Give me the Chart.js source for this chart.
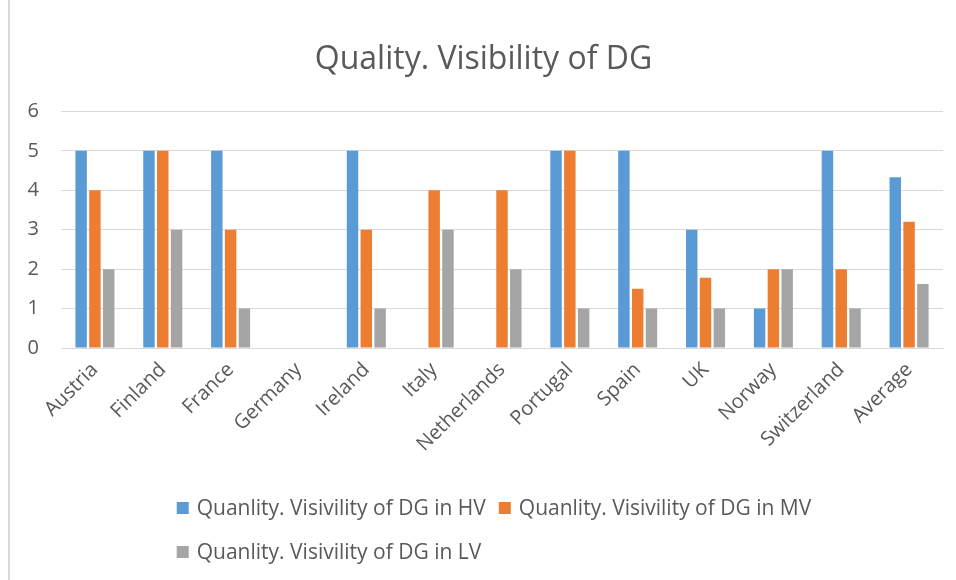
<!DOCTYPE html>
<html>
<head>
<meta charset="utf-8">
<script src="https://cdn.jsdelivr.net/npm/chart.js@4"></script>
<style>
  html,body{margin:0;padding:0;background:#fff;}
  #wrap{position:relative;width:956px;height:580px;overflow:hidden;}
  #edge{position:absolute;left:8px;top:0;width:2px;height:580px;background:#d9d9d9;}
  canvas{position:absolute;left:0;top:0;}
</style>
</head>
<body>
<div id="wrap"><div id="edge"></div><canvas id="chart" width="956" height="580"></canvas></div>
<script>
// data
const categories = ['Austria','Finland','France','Germany','Ireland','Italy','Netherlands','Portugal','Spain','UK','Norway','Switzerland','Average'];
const hvValues = [5, 5, 5, 0, 5, 0, 0, 5, 5, 3, 1, 5, 4.33];
const mvValues = [4, 5, 3, 0, 3, 4, 4, 5, 1.5, 1.78, 2, 2, 3.2];
const lvValues = [2, 3, 1, 0, 1, 3, 2, 1, 1, 1, 2, 1, 1.62];
const yTicks = [0, 1, 2, 3, 4, 5, 6];
const seriesNames = ['Quanlity. Visivility of DG in HV','Quanlity. Visivility of DG in MV','Quanlity. Visivility of DG in LV'];

const FONT = '"Open Sans"';
const TXT = '#595959';
const GRID = '#d9d9d9';

// Excel-like legend: rows left aligned to the first (centered) row
const excelLegend = {
  id: 'excelLegend',
  afterDraw(chart){
    const ctx = chart.ctx;
    ctx.save();
    ctx.font = '21px ' + FONT;
    ctx.textBaseline = 'middle';
    const box = 12, gapText = 8, gapItem = 13, maxW = 800;
    const items = chart.data.datasets.map(ds => ({
      text: ds.label, color: ds.backgroundColor,
      w: box + gapText + ctx.measureText(ds.label).width
    }));
    const rows = [[]], widths = [0];
    items.forEach(it => {
      const r = rows.length - 1;
      const add = (rows[r].length ? gapItem : 0) + it.w;
      if (rows[r].length && widths[r] + add > maxW) { rows.push([it]); widths.push(it.w); }
      else { rows[r].push(it); widths[r] += add; }
    });
    const x0 = 494 - widths[0] / 2;
    rows.forEach((row, i) => {
      const y = 508 + i * 44;
      let x = x0;
      row.forEach(it => {
        ctx.fillStyle = it.color;
        ctx.fillRect(x, y - box / 2, box, box);
        ctx.fillStyle = TXT;
        ctx.fillText(it.text, x + box + gapText, y + 1);
        x += it.w + gapItem;
      });
    });
    ctx.restore();
  }
};

const ctx = document.getElementById('chart');
new Chart(ctx, {
  type: 'bar',
  data: {
    labels: categories,
    datasets: [
      { label: seriesNames[0], data: hvValues, backgroundColor: '#5b9bd5' },
      { label: seriesNames[1], data: mvValues, backgroundColor: '#ed7d31' },
      { label: seriesNames[2], data: lvValues, backgroundColor: '#a5a5a5' }
    ]
  },
  options: {
    responsive: false,
    animation: false,
    events: [],
    layout: { padding: { left: 24, right: 13, top: 0, bottom: 120 } },
    datasets: { bar: { categoryPercentage: 0.61, barPercentage: 0.83 } },
    plugins: {
      legend: { display: false },
      tooltip: { enabled: false },
      title: {
        display: true, text: 'Quality. Visibility of DG', color: TXT,
        font: { family: FONT, size: 32, weight: 'normal' },
        padding: { top: 41, bottom: 32 }
      }
    },
    scales: {
      x: {
        grid: { display: false },
        border: { color: GRID, width: 1 },
        ticks: { color: TXT, font: { family: FONT, size: 20 }, minRotation: 45, maxRotation: 45, padding: 2, autoSkip: false },
        afterFit(s){ s.height = 112; }
      },
      y: {
        min: 0, max: 6,
        afterBuildTicks(s){ s.ticks = yTicks.map(v => ({ value: v })); },
        grid: { color: GRID, drawTicks: false },
        border: { display: false },
        ticks: { color: TXT, font: { family: FONT, size: 20 }, padding: 22 },
        afterFit(s){ s.width = 37; }
      }
    }
  },
  plugins: [excelLegend]
});
</script>
</body>
</html>
